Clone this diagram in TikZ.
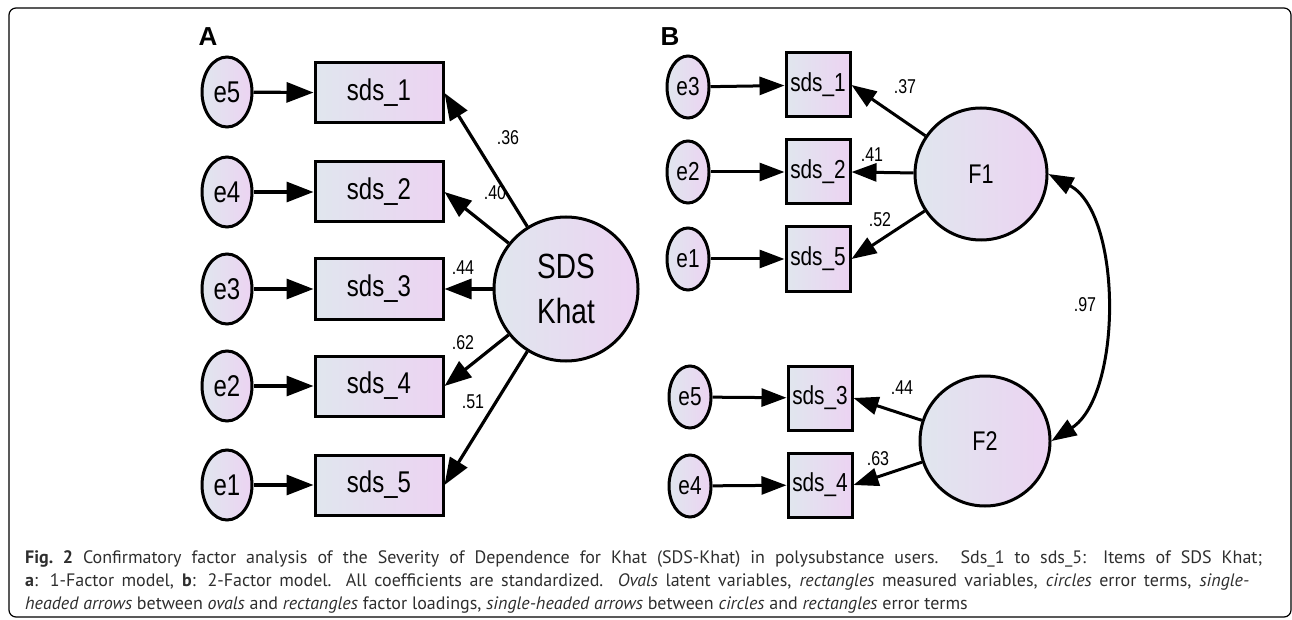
\documentclass[tikz,border=0pt]{standalone}
\usepackage{fontspec}
\usetikzlibrary{arrows.meta,shapes.geometric}
\newfontfamily\amosfont[FakeStretch=0.8]{Liberation Sans}
\newfontfamily\panelfont{Liberation Sans}
\newfontfamily\capfont{PT Sans}
\definecolor{fillL}{HTML}{E0E6EE}
\definecolor{fillR}{HTML}{ECD3F2}
\definecolor{capgray}{HTML}{2E2E2E}

\begin{document}
\begin{tikzpicture}[x=1pt,y=-1pt,
	every node/.style={inner sep=0pt},
	amos/.style={draw=black,line width=3pt,left color=fillL,right color=fillR},
	errA/.style={amos,ellipse,minimum width=50pt,minimum height=70pt,font=\amosfont\fontsize{30}{30}\selectfont},
	errB/.style={amos,ellipse,minimum width=42pt,minimum height=62pt,font=\amosfont\fontsize{26}{26}\selectfont},
	itemA/.style={amos,rectangle,minimum width=128pt,minimum height=60pt,font=\amosfont\fontsize{30}{30}\selectfont},
	itemB/.style={amos,rectangle,minimum width=64pt,minimum height=64pt,font=\amosfont\fontsize{26}{26}\selectfont},
	factor/.style={amos,circle,align=center},
	coef/.style={font=\amosfont\fontsize{20}{20}\selectfont},
	path/.style={line width=3.2pt,-{Triangle[length=27pt,width=20pt]}},
	pathB/.style={line width=3pt,-{Triangle[length=25pt,width=18pt]}},
	panel/.style={font=\panelfont\bfseries\fontsize{26}{26}\selectfont},
	capline/.style={anchor=base west,text=capgray,font=\capfont\fontsize{18}{22}\selectfont}]
	\useasboundingbox (0,0) rectangle (1292,620);
	\draw[line width=1.2pt,rounded corners=7pt] (9,8) rectangle (1291,617);

	% panel A: one factor
	\node[panel] (labA) at (208,37) {A};
	\node[errA] (e5a) at (227,92) {e5};
	\node[errA] (e4a) at (227,192) {e4};
	\node[errA] (e3a) at (227,289) {e3};
	\node[errA] (e2a) at (227,386) {e2};
	\node[errA] (e1a) at (227,485) {e1};
	\node[itemA] (s1a) at (379,93) {sds\_1};
	\node[itemA] (s2a) at (379,192) {sds\_2};
	\node[itemA] (s3a) at (379,289) {sds\_3};
	\node[itemA] (s4a) at (379,386) {sds\_4};
	\node[itemA] (s5a) at (379,485) {sds\_5};
	\node[factor,minimum size=144pt,font=\amosfont\fontsize{35}{45}\selectfont] (khat) at (566,289) {SDS\\Khat};
	\draw[path] (e5a) -- (s1a);
	\draw[path] (e4a) -- (s2a);
	\draw[path] (e3a) -- (s3a);
	\draw[path] (e2a) -- (s4a);
	\draw[path] (e1a) -- (s5a);
	\draw[path] (khat) -- (s1a.east);
	\draw[path] (khat) -- (s2a.east);
	\draw[path] (khat) -- (s3a.east);
	\draw[path] (khat) -- (s4a.east);
	\draw[path] (khat) -- (s5a.east);
	\node[coef] (c1a) at (508,138) {.36};
	\node[coef] (c2a) at (495,193) {.40};
	\node[coef] (c3a) at (463,268) {.44};
	\node[coef] (c4a) at (463,343) {.62};
	\node[coef] (c5a) at (473,402) {.51};

	% panel B: two factors
	\node[panel] (labB) at (670,37) {B};
	\node[errB] (e3b) at (688,87) {e3};
	\node[errB] (e2b) at (688,172) {e2};
	\node[errB] (e1b) at (688,259) {e1};
	\node[errB] (e5b) at (690,397) {e5};
	\node[errB] (e4b) at (690,486) {e4};
	\node[itemB] (s1b) at (818,85) {sds\_1};
	\node[itemB] (s2b) at (818,172) {sds\_2};
	\node[itemB] (s5b) at (818,259) {sds\_5};
	\node[itemB] (s3b) at (820,398) {sds\_3};
	\node[itemB] (s4b) at (820,485) {sds\_4};
	\node[factor,minimum size=132pt,font=\amosfont\fontsize{27}{27}\selectfont] (F1) at (981,174) {F1};
	\node[factor,minimum size=130pt,font=\amosfont\fontsize{27}{27}\selectfont] (F2) at (985,441) {F2};
	\draw[pathB] (e3b) -- (s1b);
	\draw[pathB] (e2b) -- (s2b);
	\draw[pathB] (e1b) -- (s5b);
	\draw[pathB] (e5b) -- (s3b);
	\draw[pathB] (e4b) -- (s4b);
	\draw[pathB] (F1) -- (s1b.east);
	\draw[pathB] (F1) -- (s2b.east);
	\draw[pathB] (F1) -- (s5b.east);
	\draw[pathB] (F2) -- (s3b.east);
	\draw[pathB] (F2) -- (s4b.east);
	\draw[line width=3pt,{Triangle[length=25pt,width=18pt]}-{Triangle[length=25pt,width=18pt]}]
		(F1.east) .. controls +(74,40) and +(71,-46) .. (F2.east);
	\node[coef] (c1b) at (905,87) {.37};
	\node[coef] (c2b) at (872,155) {.41};
	\node[coef] (c5b) at (880,220) {.52};
	\node[coef] (c3b) at (902,388) {.44};
	\node[coef] (c4b) at (878,459) {.63};
	\node[coef] (cor) at (1085,305) {.97};

	% caption
	\node[capline] (cap1) at (25,563) {\makebox[1237pt][s]{\textbf{Fig.~2} Confirmatory factor analysis of the Severity of Dependence for Khat (SDS-Khat) in polysubstance users. Sds\_1 to sds\_5: Items of SDS Khat;}};
	\node[capline] (cap2) at (25,586) {\makebox[1224pt][s]{\textbf{a}: 1-Factor model, \textbf{b}: 2-Factor model. All coefficients are standardized. \textit{Ovals} latent variables, \textit{rectangles} measured variables, \textit{circles} error terms, \textit{single-}}};
	\node[capline] (cap3) at (25,609) {\textit{headed arrows} between \textit{ovals} and \textit{rectangles} factor loadings, \textit{single-headed arrows} between \textit{circles} and \textit{rectangles} error terms};
\end{tikzpicture}
\end{document}
